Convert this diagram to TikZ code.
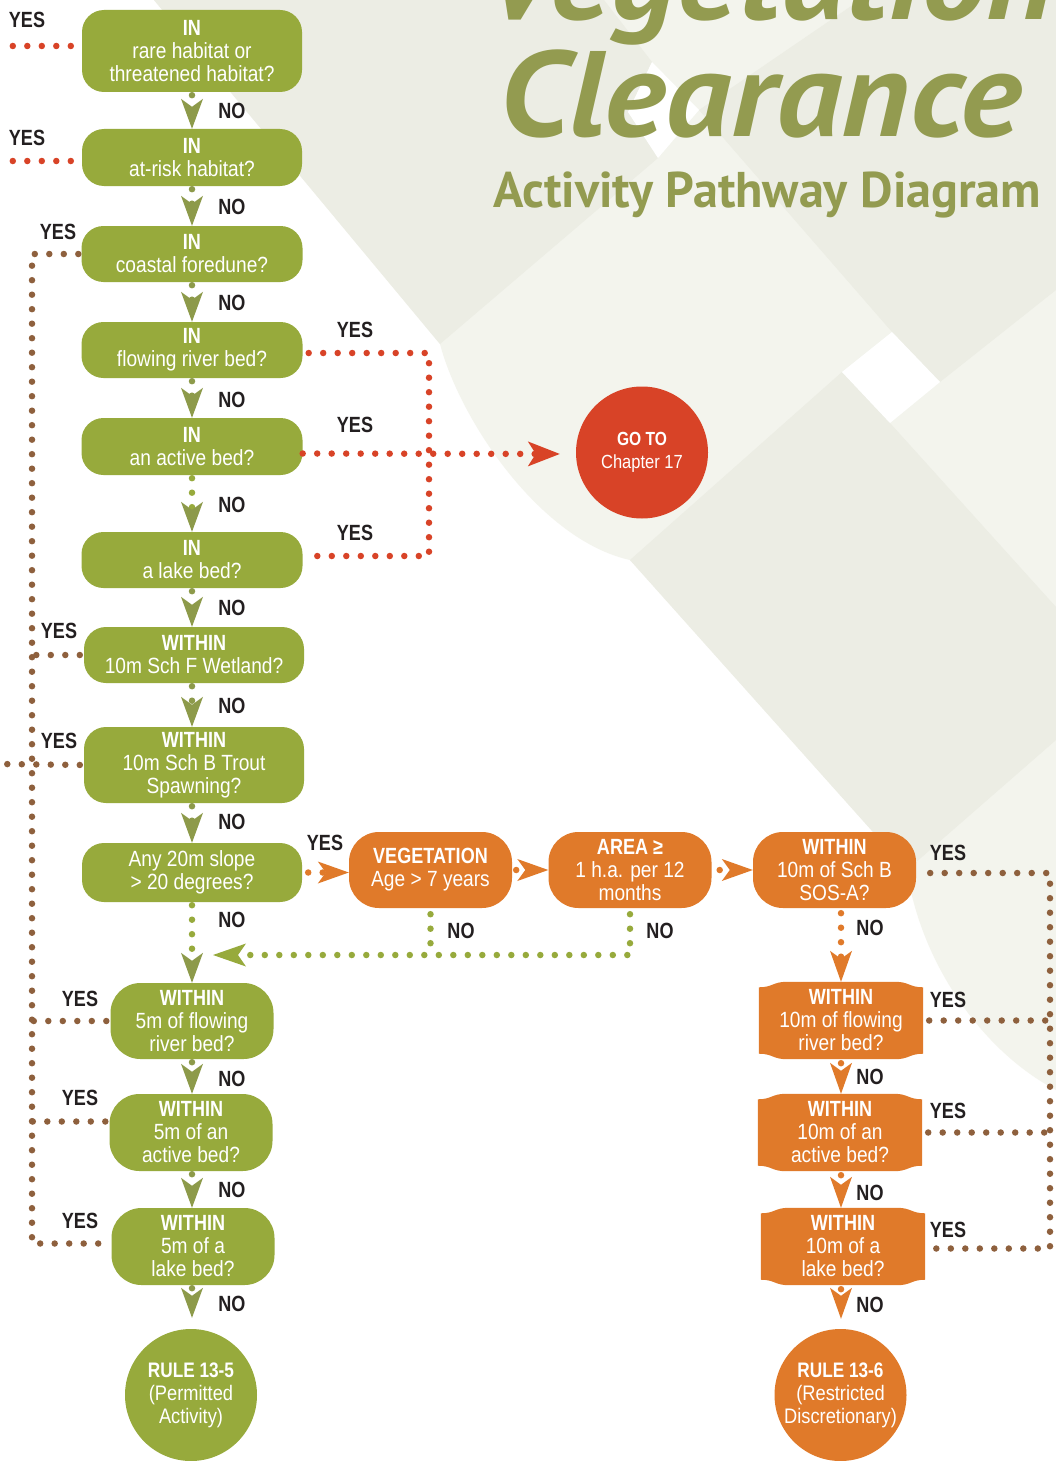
\documentclass[tikz,border=0pt]{standalone}
\usepackage{graphicx}
\usepackage{fontspec}
\setmainfont{Liberation Sans}[FakeStretch=0.87]
\newfontfamily\hdfont{Liberation Sans}[FakeStretch=0.82]
\newfontfamily\ttlfont{PT Sans}
\usetikzlibrary{arrows.meta,calc}
\definecolor{cGreen}{HTML}{97AA3C}
\definecolor{cOlive}{HTML}{8D9A4A}
\definecolor{cOrange}{HTML}{E07A2A}
\definecolor{cRed}{HTML}{D84327}
\definecolor{cBrown}{HTML}{8E603D}
\definecolor{cDark}{HTML}{231F20}
\definecolor{cTitle}{HTML}{939B50}
\definecolor{bgA}{HTML}{F3F4ED}
\definecolor{bgB}{HTML}{ECEDE4}
\newcommand\Hd[1]{{\hdfont\bfseries #1}}
\newsavebox\clbox
\newsavebox\apbox
\pgfdeclarelayer{bg}
\pgfdeclarelayer{shapes}
\pgfsetlayers{bg,shapes,main}
\tikzset{
  noTip/.tip={Stealth[length=30pt,width=22pt,inset=8pt,line width=0pt,color=cOlive]},
  gTip/.tip={Stealth[length=33pt,width=23pt,inset=8pt,line width=0pt,color=cGreen]},
  oTip/.tip={Stealth[length=31pt,width=22pt,inset=8pt,line width=0pt,color=cOrange]},
  rTip/.tip={Stealth[length=32pt,width=25pt,inset=8pt,line width=0pt,color=cRed]},
  boxtext/.style={text=white, align=center, inner sep=0pt, font=\fontsize{22}{23}\selectfont},
  gbox/.style={boxtext, fill=cGreen, rounded corners=22pt},
  obox/.style={boxtext, fill=cOrange, rounded corners=30pt, minimum width=163pt, minimum height=76pt},
  tagbox/.style={boxtext, minimum width=164pt, minimum height=77pt},
  endc/.style={circle, text=white, align=center, inner sep=0pt, minimum size=132pt, font=\fontsize{21}{23}\selectfont},
  dotline/.style={line width=6.5pt, line cap=round, dash pattern=on 0pt off 14.5pt},
  gdot/.style={dotline, draw=cGreen},
  bdot/.style={dotline, draw=cBrown},
  rdot/.style={dotline, draw=cRed},
  odot/.style={dotline, draw=cOrange},
  lab/.style={text=cDark, inner sep=0pt, font=\hdfont\bfseries\fontsize{22}{23}\selectfont}
}
\newcommand\tagfill[1]{%
\begin{pgfonlayer}{shapes}
\fill[cOrange] ([shift={(0pt,-5.5pt)}]#1.north west)
  .. controls ([shift={(14pt,-5.5pt)}]#1.north west) and ([shift={(14pt,0pt)}]#1.north west) .. ([shift={(28pt,0pt)}]#1.north west)
  -- ([shift={(-28pt,0pt)}]#1.north east)
  .. controls ([shift={(-14pt,0pt)}]#1.north east) and ([shift={(-14pt,-5.5pt)}]#1.north east) .. ([shift={(0pt,-5.5pt)}]#1.north east)
  -- ([shift={(0pt,5.5pt)}]#1.south east)
  .. controls ([shift={(-14pt,5.5pt)}]#1.south east) and ([shift={(-14pt,0pt)}]#1.south east) .. ([shift={(-28pt,0pt)}]#1.south east)
  -- ([shift={(28pt,0pt)}]#1.south west)
  .. controls ([shift={(14pt,0pt)}]#1.south west) and ([shift={(14pt,5.5pt)}]#1.south west) .. ([shift={(0pt,5.5pt)}]#1.south west)
  -- cycle;
\end{pgfonlayer}}
\begin{document}
\sbox\clbox{\color{cTitle}\ttlfont\fontsize{100}{110}\selectfont\bfseries\itshape Clearance}%
\sbox\apbox{\color{cTitle}\ttlfont\fontsize{100}{110}\selectfont\bfseries Activity Pathway Diagram}%
\pgfmathsetmacro\clsc{522/\the\wd\clbox}%
\pgfmathsetmacro\clscy{0.93*\clsc}%
\pgfmathsetmacro\apsc{548/\the\wd\apbox}%
\begin{tikzpicture}[x=1pt,y=-1pt]
\useasboundingbox (0,0) rectangle (1056,1461);
\begin{pgfonlayer}{bg}
\fill[white] (0,0) rectangle (1056,1461);
% background decoration
\fill[bgA] (154,0) -- (440,344) .. controls (460,420) and (540,540) .. (630,560) -- (907,870) .. controls (920,960) and (980,1050) .. (1056,1090) -- (1056,0) -- cycle;
\fill[bgB] (154,0) -- (604,0) -- (652,62) -- (628,112) -- (658,158) -- (440,344) -- cycle;
\fill[white] (652,62) -- (699,110) -- (658,158) -- (628,112) -- cycle;
\fill[bgB] (699,110) -- (860,0) -- (1056,0) -- (1056,290) -- (940,382) -- (892,332) -- cycle;
\fill[bgB] (630,560) -- (842,372) -- (890,423) -- (1056,607) -- (1056,740) -- (907,870) -- cycle;
\fill[white] (842,372) -- (892,332) -- (940,382) -- (890,423) -- cycle;
\end{pgfonlayer}
% titles
\node[anchor=base west, inner sep=0pt, text=cTitle] (tv) at (482,20) {\scalebox{\clsc}[\clscy]{\color{cTitle}\ttlfont\fontsize{100}{110}\selectfont\bfseries\itshape Vegetation}};
\node[anchor=base west, inner sep=0pt, text=cTitle] (tc) at (499,137) {\scalebox{\clsc}[\clscy]{\usebox\clbox}};
\node[anchor=base west, inner sep=0pt, text=cTitle] (ta) at (493,207) {\scalebox{\apsc}{\usebox\apbox}};
% left column
\node[gbox, minimum width=220pt, minimum height=82pt] (b1) at (192,51) {\Hd{IN}\\rare habitat or\\threatened habitat?};
\node[gbox, minimum width=220pt, minimum height=57pt] (b2) at (192,157.5) {\Hd{IN}\\at-risk habitat?};
\node[gbox, minimum width=221pt, minimum height=56pt] (b3) at (192,254) {\Hd{IN}\\coastal foredune?};
\node[gbox, minimum width=221pt, minimum height=56pt] (b4) at (192,350) {\Hd{IN}\\flowing river bed?};
\node[gbox, minimum width=221pt, minimum height=57pt] (b5) at (192,446.5) {\Hd{IN}\\an active bed?};
\node[gbox, minimum width=221pt, minimum height=56pt] (b6) at (192,560) {\Hd{IN}\\a lake bed?};
\node[gbox, minimum width=220pt, minimum height=56pt] (b7) at (194,655) {\Hd{WITHIN}\\10m Sch F Wetland?};
\node[gbox, minimum width=220pt, minimum height=76pt] (b8) at (194,765) {\Hd{WITHIN}\\10m Sch B Trout\\Spawning?};
\node[gbox, minimum width=220pt, minimum height=59pt] (b9) at (192,872.5) {Any 20m slope\\> 20 degrees?};
\node[gbox, rounded corners=30pt, minimum width=163pt, minimum height=76pt] (b10) at (192,1021) {\Hd{WITHIN}\\5m of flowing\\river bed?};
\node[gbox, rounded corners=30pt, minimum width=163pt, minimum height=77pt] (b11) at (191,1132.5) {\Hd{WITHIN}\\5m of an\\active bed?};
\node[gbox, rounded corners=30pt, minimum width=163pt, minimum height=77pt] (b12) at (193,1246.5) {\Hd{WITHIN}\\5m of a\\lake bed?};
\node[endc, fill=cGreen] (r5) at (191,1395) {\Hd{RULE 13-5}\\(Permitted\\Activity)};
% go to
\node[endc, fill=cRed, font=\fontsize{19}{23}\selectfont] (goto) at (642,452.5) {\Hd{GO TO}\\Chapter 17};
% orange row
\node[obox] (veg) at (430.5,870) {\Hd{VEGETATION}\\Age > 7 years};
\node[obox] (area) at (630,870) {\Hd{AREA ≥}\\1 h.a. per 12\\months};
\node[obox] (sos) at (834.5,870) {\Hd{WITHIN}\\10m of Sch B\\SOS-A?};
% right column
\node[tagbox] (b17) at (841,1020.5) {\Hd{WITHIN}\\10m of flowing\\river bed?};
\node[tagbox] (b18) at (840,1132.5) {\Hd{WITHIN}\\10m of an\\active bed?};
\node[tagbox] (b19) at (843,1246.5) {\Hd{WITHIN}\\10m of a\\lake bed?};
\tagfill{b17}\tagfill{b18}\tagfill{b19}
\node[endc, fill=cOrange] (r6) at (840.5,1395) {\Hd{RULE 13-6}\\(Restricted\\Discretionary)};
% free ends
\coordinate (fr1) at (0,46);
\coordinate (fr2) at (0,161);
\coordinate (fl) at (0,764);
\coordinate (rx) at (429,0);
\coordinate (bx) at (32,0);
\coordinate (bx2) at (1050,0);
\coordinate (gj) at (213,955);
% red YES
\draw[rdot, shorten <=11pt] (b1.west |- fr1) -- (fr1);
\draw[rdot, shorten <=11pt] (b2.west |- fr2) -- (fr2);
\draw[rdot, shorten <=6pt, shorten >=6pt] ([yshift=-3pt]b4.east) -- ([yshift=-3pt]b4.east -| rx) -- ([yshift=4pt]b6.east -| rx) -- ([yshift=4pt]b6.east);
\draw[rdot, -rTip, shorten >=16pt] ([yshift=-7pt]b5.east) -- ([yshift=-1.5pt]goto.west);
% brown YES left
\draw[bdot, shorten <=3pt, shorten >=3pt] (b3.west) -- (b3.west -| bx) -- ([yshift=3pt]b12.west -| bx) -- ([yshift=3pt]b12.west);
\draw[bdot, shorten <=4pt] (b7.west) -- (b7.west -| bx);
\draw[bdot, shorten <=4pt] (b8.west) -- (fl);
\draw[bdot, shorten <=4pt] (b10.west) -- (b10.west -| bx);
\draw[bdot, shorten <=4pt] ([yshift=11pt]b11.west) -- ([yshift=11pt]b11.west -| bx);
% brown YES right
\draw[bdot, shorten <=14pt, shorten >=6pt] ([yshift=-3pt]sos.east) -- ([yshift=-3pt]sos.east -| bx2) -- ([yshift=-2pt]b19.east -| bx2) -- ([yshift=-2pt]b19.east);
\draw[bdot, shorten <=6pt] (b17.east) -- (b17.east -| bx2);
\draw[bdot, shorten <=6pt] (b18.east) -- (b18.east -| bx2);
% NO arrows left column
\draw[gdot, draw=cOlive, -noTip, shorten <=3pt] (b1.south) -- (b1.south |- b2.north);
\draw[gdot, draw=cOlive, -noTip, shorten <=3pt] (b2.south) -- (b2.south |- b3.north);
\draw[gdot, draw=cOlive, -noTip, shorten <=3pt] (b3.south) -- (b3.south |- b4.north);
\draw[gdot, draw=cOlive, -noTip, shorten <=3pt] (b4.south) -- (b4.south |- b5.north);
\draw[gdot, -noTip, shorten <=3pt] (b5.south) -- (b5.south |- b6.north);
\draw[gdot, draw=cOlive, -noTip, shorten <=3pt] (b6.south) -- (b6.south |- b7.north);
\draw[gdot, draw=cOlive, -noTip, shorten <=3pt] (b6.south |- b7.south) -- (b6.south |- b8.north);
\draw[gdot, draw=cOlive, -noTip, shorten <=3pt] (b9.south |- b8.south) -- (b9.south |- b9.north);
\draw[gdot, -noTip, shorten <=3pt] (b9.south) -- (b9.south |- b10.north);
\draw[gdot, draw=cOlive, -noTip, shorten <=3pt] (b9.south |- b10.south) -- (b9.south |- b11.north);
\draw[gdot, draw=cOlive, -noTip, shorten <=3pt] (b9.south |- b11.south) -- (b9.south |- b12.north);
\draw[gdot, draw=cOlive, -noTip, shorten <=3pt, shorten >=11pt] (b9.south |- b12.south) -- (b9.south |- r5.north);
% orange arrows
\draw[odot, -oTip, shorten <=6pt] (b9.east) -- (b9.east -| veg.west);
\draw[odot, -oTip, shorten <=4pt] (veg.east) -- (area.west);
\draw[odot, -oTip, shorten <=8pt] (area.east) -- (sos.west);
\draw[odot, -oTip, shorten <=5pt] (sos.south -| b17.north) -- (b17.north);
\draw[odot, -oTip, shorten <=4pt] (b17.south) -- (b17.south |- b18.north);
\draw[odot, -oTip, shorten <=4pt] (b17.south |- b18.south) -- (b17.south |- b19.north);
\draw[odot, -oTip, shorten <=4pt, shorten >=10pt] (b17.south |- b19.south) -- (b17.south |- r6.north);
% green NO return
\draw[gdot, -gTip, shorten <=6pt] (area.south) |- (gj);
\draw[gdot, shorten <=6pt] (veg.south) -- (veg.south |- gj);
% labels YES
\node[lab] (ya1) at (27,20) {YES};
\node[lab] (ya2) at (27,138) {YES};
\node[lab] (ya3) at (58,232) {YES};
\node[lab] (ya4) at (355,330) {YES};
\node[lab] (ya5) at (355,425) {YES};
\node[lab] (ya6) at (355,533) {YES};
\node[lab] (ya7) at (59,631) {YES};
\node[lab] (ya8) at (59,741) {YES};
\node[lab] (ya9) at (325,843) {YES};
\node[lab] (ya10) at (80,999) {YES};
\node[lab] (ya11) at (80,1098) {YES};
\node[lab] (ya12) at (80,1221) {YES};
\node[lab] (yb1) at (948,853) {YES};
\node[lab] (yb2) at (948,1000) {YES};
\node[lab] (yb3) at (948,1111) {YES};
\node[lab] (yb4) at (948,1230) {YES};
% labels NO
\node[lab] (na1) at (232,111) {NO};
\node[lab] (na2) at (232,207) {NO};
\node[lab] (na3) at (232,303) {NO};
\node[lab] (na4) at (232,400) {NO};
\node[lab] (na5) at (232,505) {NO};
\node[lab] (na6) at (232,608) {NO};
\node[lab] (na7) at (232,706) {NO};
\node[lab] (na8) at (232,822) {NO};
\node[lab] (na9) at (232,920) {NO};
\node[lab] (na10) at (232,1079) {NO};
\node[lab] (na11) at (232,1190) {NO};
\node[lab] (na12) at (232,1304) {NO};
\node[lab] (nb1) at (461,931) {NO};
\node[lab] (nb2) at (660,931) {NO};
\node[lab] (nb3) at (870,928) {NO};
\node[lab] (nb4) at (870,1077) {NO};
\node[lab] (nb5) at (870,1193) {NO};
\node[lab] (nb6) at (870,1305) {NO};
\end{tikzpicture}
\end{document}
